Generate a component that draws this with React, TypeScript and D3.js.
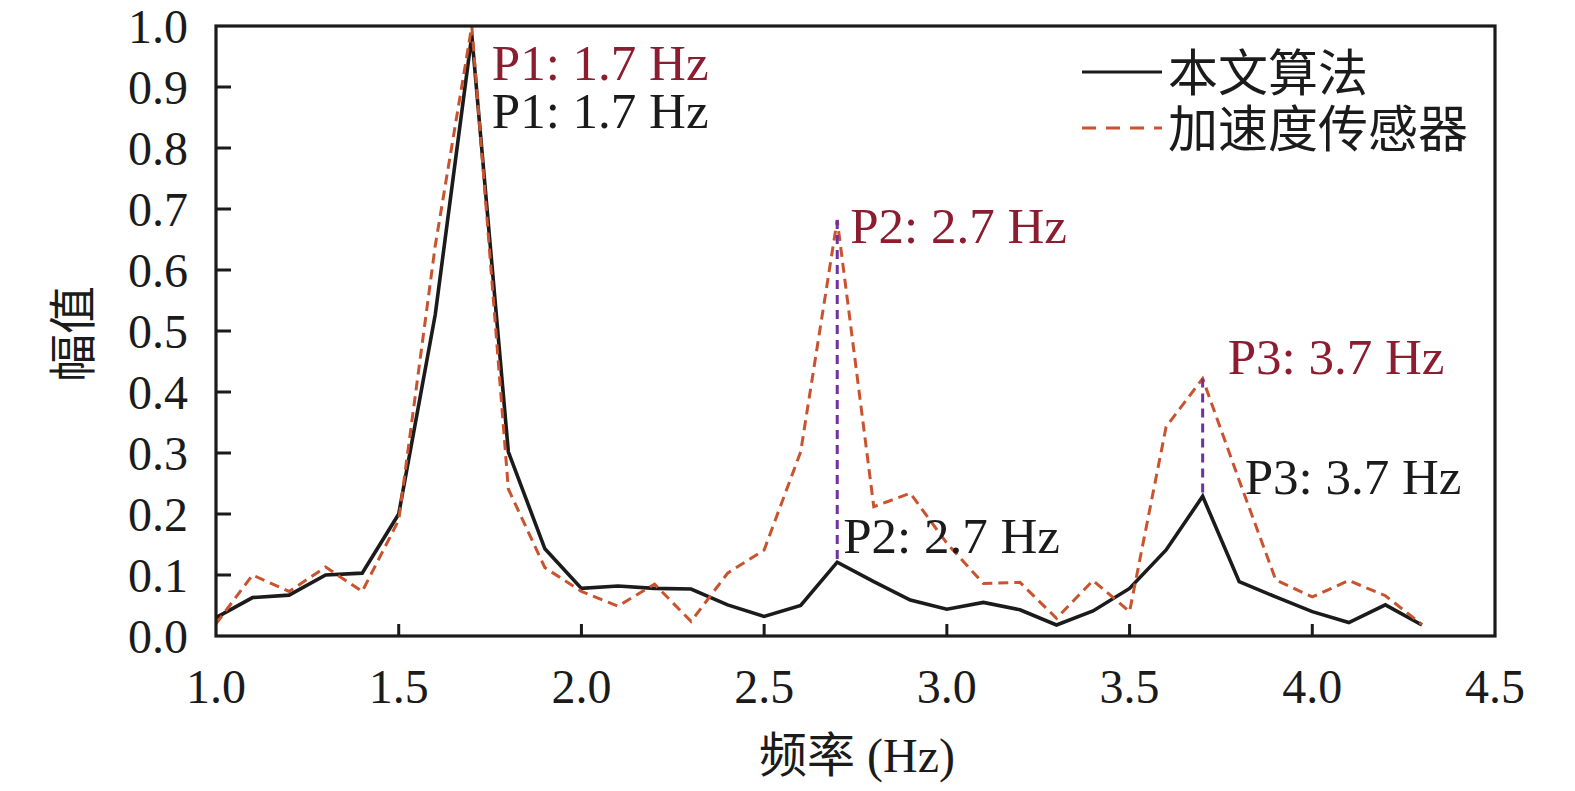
import React from "react";
import * as d3 from "d3";

const freqs = [1.0, 1.1, 1.2, 1.3, 1.4, 1.5, 1.6, 1.7, 1.8, 1.9, 2.0, 2.1, 2.2, 2.3, 2.4, 2.5, 2.6, 2.7, 2.8, 2.9, 3.0, 3.1, 3.2, 3.3, 3.4, 3.5, 3.6, 3.7, 3.8, 3.9, 4.0, 4.1, 4.2, 4.3];
const algoValues = [0.03, 0.063, 0.067, 0.1, 0.103, 0.2, 0.527, 0.985, 0.302, 0.143, 0.078, 0.082, 0.078, 0.077, 0.051, 0.032, 0.05, 0.121, 0.089, 0.059, 0.044, 0.055, 0.043, 0.018, 0.041, 0.078, 0.141, 0.229, 0.089, 0.064, 0.04, 0.022, 0.051, 0.018];
const accelValues = [0.02, 0.1, 0.073, 0.113, 0.073, 0.19, 0.64, 1.0, 0.241, 0.112, 0.073, 0.049, 0.085, 0.024, 0.103, 0.141, 0.302, 0.682, 0.212, 0.234, 0.152, 0.086, 0.088, 0.029, 0.091, 0.04, 0.343, 0.422, 0.255, 0.092, 0.064, 0.091, 0.066, 0.019];
const xTicks = [1.0, 1.5, 2.0, 2.5, 3.0, 3.5, 4.0, 4.5];
const yTicks = [0.0, 0.1, 0.2, 0.3, 0.4, 0.5, 0.6, 0.7, 0.8, 0.9, 1.0];
const peakFreqs = [1.7, 2.7, 3.7];
const peakLabels = ["P1: 1.7 Hz", "P2: 2.7 Hz", "P3: 3.7 Hz"];
const seriesNames = ["本文算法", "加速度传感器"];

const W = 1575, H = 791;
const L = 216, R = 1495, T = 26, B = 636;
const SERIF = "'Liberation Serif', 'Times New Roman', 'Noto Sans CJK SC', serif";
const BLACK = "#1b1b1b";
const ORANGE = "#c9532e";
const RED = "#8c1d30";
const PURPLE = "#7030a0";

// label offsets (px) relative to each peak
const redOff = [[20, 54], [13, 23], [25, -5]];
const blackOff = [[20, 102], [6, -9], [42, -2]];

export default function App() {
  const x = d3.scaleLinear().domain([1.0, 4.5]).range([L, R]);
  const y = d3.scaleLinear().domain([0, 1]).range([B, T]);
  const line = d3.line<number>().x((_, i) => x(freqs[i])).y((v) => y(v));
  const idx = (f: number) => freqs.findIndex((v) => Math.abs(v - f) < 1e-9);

  return (
    <svg width={W} height={H} style={{ position: "absolute", left: 0, top: 0, background: "#fff" }} fontFamily={SERIF}>
      {/* y ticks */}
      {yTicks.map((t) => (
        <g key={"y" + t}>
          {t > 0 && t < 1 && <line x1={L} x2={L + 15} y1={y(t)} y2={y(t)} stroke={BLACK} strokeWidth={3} />}
          <text x={188} y={y(t)} dy="0.35em" textAnchor="end" fontSize={48} fill={BLACK}>{t.toFixed(1)}</text>
        </g>
      ))}
      {/* x ticks */}
      {xTicks.map((t) => (
        <g key={"x" + t}>
          {t > 1 && t < 4.5 && <line x1={x(t)} x2={x(t)} y1={B} y2={B - 12} stroke={BLACK} strokeWidth={3} />}
          <text x={x(t)} y={703} textAnchor="middle" fontSize={48} fill={BLACK}>{t.toFixed(1)}</text>
        </g>
      ))}
      {/* series */}
      <path d={line(algoValues) || ""} fill="none" stroke={BLACK} strokeWidth={3.6} strokeLinejoin="miter" />
      <path d={line(accelValues) || ""} fill="none" stroke={ORANGE} strokeWidth={3} strokeDasharray="10,6" />
      {/* peak markers */}
      {peakFreqs.map((f, k) => {
        const i = idx(f);
        return k > 0 ? (
          <line key={"pk" + k} x1={x(f)} x2={x(f)} y1={y(accelValues[i])} y2={y(algoValues[i])} stroke={PURPLE} strokeWidth={3} strokeDasharray="9,6" />
        ) : null;
      })}
      {peakFreqs.map((f, k) => {
        const i = idx(f);
        const top = k === 0 ? y(1) : y(accelValues[i]);
        return (
          <g key={"lab" + k}>
            <text x={x(f) + redOff[k][0]} y={top + redOff[k][1]} fontSize={51} fill={RED}>{peakLabels[k]}</text>
            <text x={x(f) + blackOff[k][0]} y={(k === 0 ? y(1) : y(algoValues[i])) + blackOff[k][1]} fontSize={51} fill={BLACK}>{peakLabels[k]}</text>
          </g>
        );
      })}
      {/* frame */}
      <rect x={L} y={T} width={R - L} height={B - T} fill="none" stroke={BLACK} strokeWidth={3.2} />
      {/* legend */}
      <line x1={1082} x2={1162} y1={72} y2={72} stroke={BLACK} strokeWidth={3.2} />
      <text x={1168} y={91} fontSize={50} fill={BLACK}>{seriesNames[0]}</text>
      <line x1={1082} x2={1162} y1={128} y2={128} stroke={ORANGE} strokeWidth={3} strokeDasharray="14,10" />
      <text x={1168} y={147} fontSize={50} fill={BLACK}>{seriesNames[1]}</text>
      {/* axis titles */}
      <text x={857} y={772} textAnchor="middle" fontSize={48} fill={BLACK}>频率 (Hz)</text>
      <text transform="translate(90,334) rotate(-90)" textAnchor="middle" fontSize={48} fill={BLACK}>幅值</text>
    </svg>
  );
}
